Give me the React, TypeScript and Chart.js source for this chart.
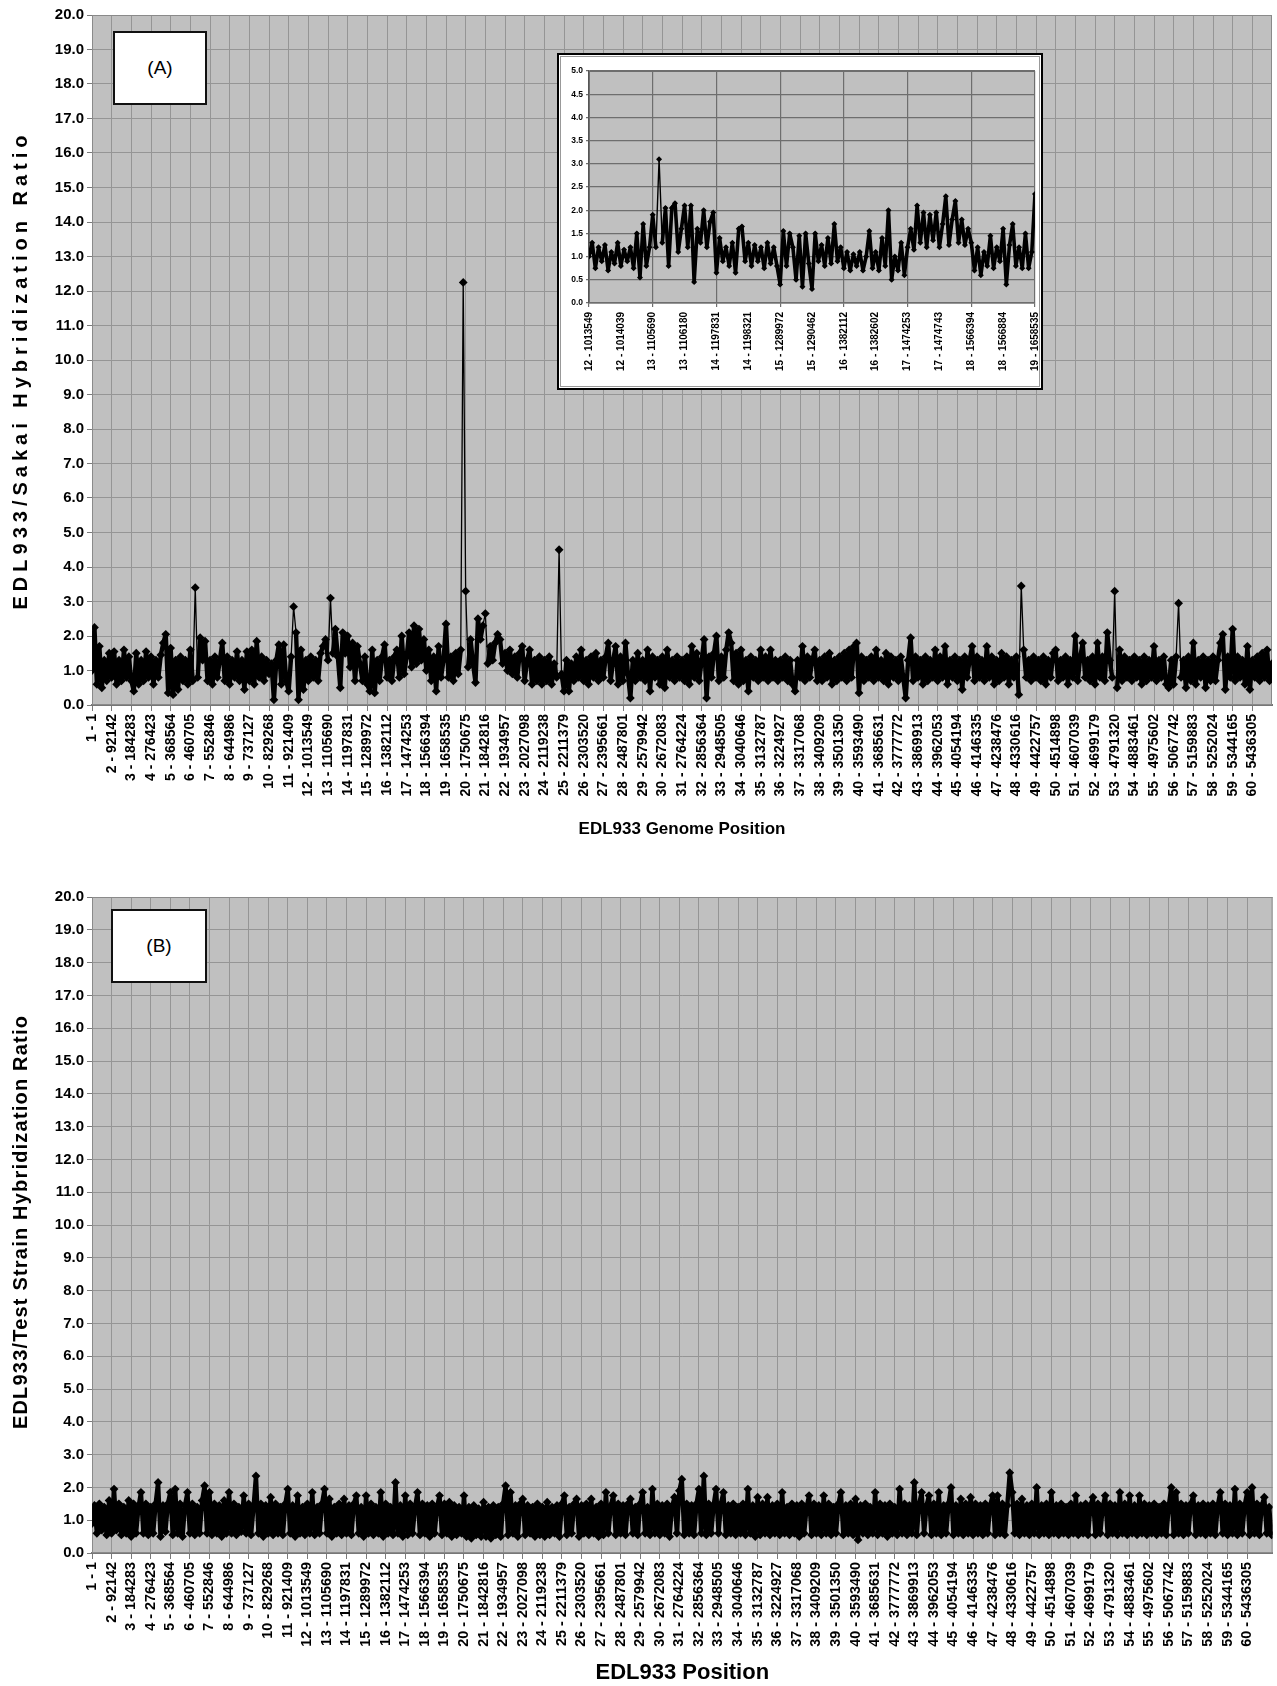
import React, { useEffect, useRef } from 'react';
import { Chart, registerables } from 'chart.js';

Chart.register(...registerables);

const FONT = "'Liberation Sans', Arial, Helvetica, sans-serif";

// 60 genome position tick labels shared by both panels
const GENOME_LABELS = [
  '1 - 1', '2 - 92142', '3 - 184283', '4 - 276423', '5 - 368564', '6 - 460705', '7 - 552846', '8 - 644986',
  '9 - 737127', '10 - 829268', '11 - 921409', '12 - 1013549', '13 - 1105690', '14 - 1197831', '15 - 1289972',
  '16 - 1382112', '17 - 1474253', '18 - 1566394', '19 - 1658535', '20 - 1750675', '21 - 1842816', '22 - 1934957',
  '23 - 2027098', '24 - 2119238', '25 - 2211379', '26 - 2303520', '27 - 2395661', '28 - 2487801', '29 - 2579942',
  '30 - 2672083', '31 - 2764224', '32 - 2856364', '33 - 2948505', '34 - 3040646', '35 - 3132787', '36 - 3224927',
  '37 - 3317068', '38 - 3409209', '39 - 3501350', '40 - 3593490', '41 - 3685631', '42 - 3777772', '43 - 3869913',
  '44 - 3962053', '45 - 4054194', '46 - 4146335', '47 - 4238476', '48 - 4330616', '49 - 4422757', '50 - 4514898',
  '51 - 4607039', '52 - 4699179', '53 - 4791320', '54 - 4883461', '55 - 4975602', '56 - 5067742', '57 - 5159883',
  '58 - 5252024', '59 - 5344165', '60 - 5436305',
];

const MAIN_Y_TICKS = [0, 1, 2, 3, 4, 5, 6, 7, 8, 9, 10, 11, 12, 13, 14, 15, 16, 17, 18, 19, 20];

// probes plotted per labelled genome interval
const POINTS_PER_LABEL = 8;

// Panel A: EDL933 / Sakai hybridization ratio
const SAKAI_RATIO = [
  1.0, 2.25, 0.6, 1.7, 0.5, 1.3, 0.7, 1.5,
  0.8, 1.55, 0.6, 1.3, 0.7, 1.6, 0.8, 1.4,
  0.7, 0.4, 1.5, 0.6, 1.3, 0.7, 1.55, 0.8,
  1.4, 0.6, 1.3, 0.8, 1.45, 1.8, 2.05, 0.35,
  1.65, 0.3, 1.3, 0.45, 1.4, 0.7, 1.3, 0.6,
  1.6, 0.7, 3.4, 0.8, 1.95, 1.3, 1.85, 0.7,
  1.3, 0.6, 1.4, 0.8, 1.3, 1.8, 0.7, 1.4,
  0.6, 1.3, 0.8, 1.55, 0.7, 1.3, 0.45, 1.55,
  0.7, 1.6, 0.6, 1.85, 0.8, 1.4, 0.7, 1.3,
  0.9, 1.2, 0.15, 1.3, 1.75, 0.6, 1.75, 0.7,
  0.4, 1.4, 2.85, 2.1, 0.15, 1.6, 0.45, 1.3,
  0.7, 1.4, 0.8, 1.3, 0.7, 1.5, 1.7, 1.9,
  1.3, 3.1, 1.5, 2.2, 1.4, 0.5, 2.1, 1.5,
  2.0, 1.1, 1.8, 0.7, 1.7, 1.2, 0.7, 1.4,
  0.6, 0.4, 1.6, 0.35, 1.3, 0.7, 1.4, 1.75,
  0.8, 1.3, 0.7, 1.4, 1.6, 0.8, 2.0, 0.9,
  1.4, 2.1, 1.1, 2.3, 1.2, 2.2, 1.3, 1.9,
  1.0, 1.6, 0.7, 1.4, 0.4, 1.7, 0.8, 1.3,
  2.35, 0.8, 1.4, 0.7, 1.5, 0.9, 1.6, 12.25,
  3.3, 1.1, 1.9, 1.2, 0.65, 2.5, 1.9, 2.3,
  2.65, 1.2, 1.7, 1.3, 1.8, 2.05, 1.9, 1.2,
  1.5, 1.0, 1.6, 0.9, 1.4, 0.8, 1.5, 1.7,
  0.7, 1.3, 1.6, 0.6, 1.3, 0.7, 1.4, 0.6,
  1.3, 0.7, 1.4, 0.6, 1.2, 0.8, 4.5, 0.9,
  0.4, 1.3, 0.4, 1.2, 0.7, 1.4, 0.8, 1.6,
  0.7, 1.3, 0.6, 1.4, 0.8, 1.5, 0.7, 1.3,
  0.8, 1.4, 1.8, 0.7, 1.3, 1.7, 0.6, 1.4,
  0.7, 1.8, 0.9, 0.2, 1.3, 0.7, 1.5, 0.8,
  1.3, 0.7, 1.6, 0.4, 1.4, 0.8, 1.3, 0.6,
  1.4, 0.5, 1.6, 0.8, 1.3, 0.7, 1.4, 0.8,
  1.3, 0.7, 1.4, 0.6, 1.7, 0.8, 1.5, 0.7,
  1.3, 1.9, 0.2, 1.4, 0.8, 1.5, 2.0, 0.7,
  1.4, 0.8, 1.6, 2.1, 1.8, 0.7, 1.5, 0.6,
  1.6, 0.7, 1.3, 0.4, 1.4, 0.8, 1.3, 0.7,
  1.6, 0.8, 1.4, 0.7, 1.6, 0.8, 1.3, 0.7,
  1.3, 0.8, 1.4, 0.7, 1.3, 0.6, 0.4, 1.3,
  0.8, 1.7, 0.7, 1.4, 0.8, 1.3, 1.6, 0.7,
  1.3, 0.7, 1.4, 0.8, 1.5, 0.6, 1.3, 0.7,
  1.4, 0.8, 1.5, 0.7, 1.6, 0.8, 1.7, 1.8,
  0.35, 1.4, 0.7, 1.3, 0.8, 1.4, 0.7, 1.6,
  0.8, 1.3, 0.7, 1.5, 0.6, 1.4, 0.8, 1.3,
  0.7, 1.4, 0.8, 0.2, 1.3, 1.95, 0.7, 1.4,
  0.8, 1.3, 0.6, 1.4, 0.7, 1.3, 0.8, 1.6,
  0.7, 1.4, 0.8, 1.7, 0.6, 1.3, 0.8, 1.4,
  0.7, 1.3, 0.45, 1.4, 0.8, 1.3, 1.7, 0.7,
  1.4, 0.8, 1.3, 0.7, 1.7, 0.8, 1.4, 0.6,
  1.3, 0.7, 1.5, 0.8, 1.4, 0.6, 1.3, 0.8,
  1.4, 0.3, 3.45, 1.6, 0.8, 1.3, 0.7, 1.4,
  0.8, 1.3, 0.7, 1.4, 0.6, 1.3, 0.8, 1.5,
  1.6, 0.7, 1.3, 0.8, 1.4, 0.6, 1.3, 0.8,
  2.0, 0.7, 1.4, 1.8, 0.8, 1.3, 0.7, 1.4,
  0.6, 1.8, 0.8, 1.4, 0.7, 2.1, 1.3, 0.8,
  3.3, 0.5, 1.6, 0.7, 1.4, 0.8, 1.3, 0.7,
  1.4, 0.8, 1.3, 0.6, 1.4, 0.7, 1.3, 0.8,
  1.7, 0.7, 1.3, 0.8, 1.4, 0.6, 0.5, 1.3,
  0.6, 1.4, 2.95, 0.8, 1.3, 0.5, 1.4, 0.7,
  1.8, 0.6, 1.3, 0.8, 1.4, 0.5, 1.3, 0.7,
  1.4, 0.7, 1.3, 1.8, 2.05, 0.45, 1.4, 0.8,
  2.2, 0.7, 1.4, 0.8, 1.3, 0.6, 1.7, 0.45,
  1.3, 0.8, 1.4, 0.7, 1.5, 0.8, 1.6, 0.7,
  1.2,
];

// Panel B: EDL933 / test strain hybridization ratio
const TEST_STRAIN_RATIO = [
  0.9, 1.45, 0.6, 1.5, 0.7, 1.4, 0.55, 1.6,
  0.6, 1.95, 0.7, 1.5, 0.55, 1.4, 0.6, 1.6,
  0.5, 1.5, 0.6, 1.4, 1.85, 0.6, 1.5, 0.55,
  1.4, 0.6, 1.5, 2.15, 0.5, 1.45, 0.65, 1.5,
  1.85, 0.55, 1.95, 0.6, 1.5, 0.5, 1.45, 1.85,
  0.6, 1.5, 0.55, 1.4, 0.6, 1.6, 2.05, 0.6,
  1.85, 0.55, 1.5, 0.6, 1.45, 0.5, 1.6, 0.6,
  1.85, 0.6, 1.5, 0.55, 1.4, 0.65, 1.75, 0.6,
  1.5, 0.55, 1.4, 2.35, 0.6, 1.5, 0.5, 1.45,
  0.6, 1.7, 0.55, 1.5, 0.6, 1.4, 0.55, 1.5,
  1.95, 0.6, 1.45, 0.5, 1.75, 0.6, 1.4, 0.55,
  1.5, 0.6, 1.85, 0.55, 1.4, 0.6, 1.5, 1.95,
  0.6, 1.65, 0.5, 1.4, 0.6, 1.5, 0.55, 1.65,
  0.6, 1.45, 0.55, 1.5, 1.75, 0.6, 1.4, 0.5,
  1.75, 0.6, 1.5, 0.55, 1.4, 0.6, 1.85, 0.5,
  1.5, 0.6, 1.4, 0.55, 2.15, 0.6, 1.45, 0.5,
  1.75, 0.55, 1.5, 0.6, 1.4, 1.85, 0.55, 1.5,
  0.6, 1.45, 0.5, 1.5, 0.6, 1.4, 1.75, 0.55,
  1.5, 0.6, 1.55, 0.5, 1.45, 0.55, 1.4, 0.6,
  1.75, 0.5, 1.4, 0.45, 1.45, 0.55, 1.35, 0.5,
  1.55, 0.5, 1.4, 0.45, 1.45, 0.55, 1.4, 0.5,
  1.5, 2.05, 0.55, 1.85, 0.6, 1.45, 0.5, 1.5,
  1.65, 0.55, 1.45, 0.6, 1.4, 0.5, 1.5, 0.55,
  1.4, 0.5, 1.55, 0.55, 1.4, 0.6, 1.45, 0.5,
  1.5, 1.75, 0.55, 1.4, 0.6, 1.5, 1.65, 0.5,
  1.45, 0.6, 1.5, 0.55, 1.65, 0.6, 1.4, 0.5,
  1.5, 0.55, 1.85, 0.6, 1.45, 1.75, 0.55, 1.5,
  0.6, 1.45, 0.55, 1.5, 1.65, 0.6, 1.4, 0.55,
  1.5, 1.85, 0.6, 1.4, 0.55, 1.95, 0.6, 1.5,
  0.55, 1.45, 0.6, 1.5, 0.5, 1.4, 1.7, 0.6,
  1.9, 2.25, 0.55, 1.5, 0.6, 1.45, 0.55, 1.5,
  1.95, 0.6, 2.35, 0.55, 1.5, 0.6, 1.45, 1.95,
  0.6, 1.5, 1.85, 0.55, 1.45, 0.6, 1.5, 0.55,
  1.4, 0.6, 1.5, 0.55, 1.95, 0.6, 1.45, 0.5,
  1.7, 0.55, 1.5, 0.6, 1.7, 0.55, 1.45, 0.6,
  1.5, 0.55, 1.85, 0.6, 1.4, 0.55, 1.5, 0.6,
  1.45, 0.5, 1.5, 0.6, 1.4, 1.75, 0.55, 1.5,
  0.6, 1.45, 0.55, 1.75, 0.6, 1.5, 0.55, 1.4,
  0.6, 1.5, 1.85, 0.55, 1.45, 0.6, 1.5, 0.55,
  1.65, 0.4, 1.45, 0.6, 1.5, 0.55, 1.4, 0.6,
  1.85, 0.55, 1.5, 0.6, 1.45, 0.5, 1.5, 0.6,
  1.4, 0.55, 1.95, 0.6, 1.5, 0.55, 1.45, 0.6,
  2.15, 0.55, 1.5, 1.85, 0.6, 1.45, 1.75, 0.55,
  1.5, 0.6, 1.85, 0.55, 1.45, 0.6, 1.5, 2.0,
  0.55, 1.45, 0.6, 1.65, 0.55, 1.5, 0.6, 1.7,
  0.55, 1.5, 0.6, 1.45, 0.55, 1.5, 0.6, 1.45,
  1.75, 0.55, 1.75, 0.6, 1.5, 0.55, 1.45, 2.45,
  1.85, 0.6, 1.5, 0.55, 1.65, 0.6, 1.45, 0.55,
  1.5, 0.6, 2.0, 0.55, 1.45, 0.6, 1.5, 0.55,
  1.85, 0.6, 1.45, 0.55, 1.5, 0.6, 1.4, 0.55,
  1.5, 0.6, 1.75, 0.55, 1.45, 0.6, 1.5, 0.55,
  1.45, 1.7, 0.55, 1.5, 0.6, 1.4, 1.75, 0.55,
  1.5, 0.6, 1.45, 0.55, 1.85, 0.6, 1.5, 0.55,
  1.75, 0.6, 1.45, 0.55, 1.75, 0.6, 1.5, 0.55,
  1.45, 0.6, 1.5, 0.55, 1.4, 0.6, 1.5, 0.55,
  1.45, 2.0, 0.55, 1.85, 0.6, 1.5, 0.55, 1.45,
  0.6, 1.5, 1.75, 0.55, 1.45, 0.6, 1.5, 0.55,
  1.45, 0.6, 1.5, 0.55, 1.45, 1.85, 0.6, 1.5,
  0.55, 1.45, 0.6, 1.95, 0.55, 1.5, 0.6, 1.45,
  1.85, 0.55, 2.0, 0.6, 1.5, 0.55, 1.45, 1.7,
  0.6, 1.4, 0.55,
];

// Inset (panel A): zoom on genome positions 12 - 1013549 to 19 - 1658535
const INSET_LABELS = [
  '12 - 1013549', '12 - 1014039', '13 - 1105690', '13 - 1106180', '14 - 1197831', '14 - 1198321',
  '15 - 1289972', '15 - 1290462', '16 - 1382112', '16 - 1382602', '17 - 1474253', '17 - 1474743',
  '18 - 1566394', '18 - 1566884', '19 - 1658535',
];
const INSET_Y_TICKS = [0, 0.5, 1, 1.5, 2, 2.5, 3, 3.5, 4, 4.5, 5];
const INSET_POINTS_PER_LABEL = 10;
const INSET_RATIO = [
  1.0, 1.3, 0.75, 1.2, 0.9, 1.25, 0.7, 1.1, 0.85, 1.3,
  0.8, 1.15, 0.9, 1.2, 0.75, 1.5, 0.55, 1.7, 0.8, 1.2,
  1.9, 1.2, 3.1, 1.3, 2.05, 0.8, 2.05, 2.15, 1.1, 1.6,
  2.1, 1.2, 2.1, 0.45, 1.6, 1.3, 2.0, 1.2, 1.75, 1.95,
  0.65, 1.4, 0.9, 1.2, 0.8, 1.3, 0.65, 1.6, 1.65, 0.9,
  1.3, 0.8, 1.25, 0.9, 1.2, 0.75, 1.3, 0.85, 1.2, 0.8,
  0.4, 1.55, 0.8, 1.5, 1.2, 0.5, 1.45, 0.35, 1.5, 0.85,
  0.3, 1.5, 0.9, 1.25, 0.8, 1.4, 0.85, 1.7, 0.9, 1.2,
  0.75, 1.1, 0.7, 1.05, 0.8, 1.1, 0.7, 1.0, 1.55, 0.75,
  1.1, 0.7, 1.4, 0.8, 2.0, 0.5, 1.0, 0.7, 1.3, 0.6,
  1.2, 1.6, 1.15, 2.1, 1.3, 1.95, 1.2, 1.9, 1.35, 1.95,
  1.2, 1.7, 2.3, 1.25, 1.8, 2.2, 1.3, 1.8, 1.25, 1.6,
  1.3, 0.7, 1.2, 0.6, 1.1, 0.8, 1.45, 0.75, 1.2, 0.9,
  1.6, 0.4, 1.25, 1.7, 0.8, 1.2, 0.75, 1.5, 0.75, 1.1,
  2.35,
];

const PLOT_BG = '#c0c0c0';
const GRID = '#959595';

function plotFrame(bg: string, border: string) {
  return {
    id: 'plotFrame',
    beforeDraw(chart: any) {
      const { ctx, chartArea: a } = chart;
      ctx.save();
      ctx.fillStyle = bg;
      ctx.fillRect(a.left, a.top, a.right - a.left, a.bottom - a.top);
      ctx.restore();
    },
    beforeDatasetsDraw(chart: any) {
      const { ctx, chartArea: a } = chart;
      ctx.save();
      ctx.strokeStyle = border;
      ctx.lineWidth = 1;
      ctx.strokeRect(a.left + 0.5, a.top + 0.5, a.right - a.left - 1, a.bottom - a.top - 1);
      ctx.restore();
    },
  };
}

function toPoints(values: number[], perLabel: number) {
  return values.map((y, i) => ({ x: i / perLabel, y }));
}

// thick strokes inside the dense band, thin strokes for isolated spikes
function segmentWidth(threshold: number, thin: number, thick: number) {
  return (ctx: any) => (Math.max(ctx.p0.parsed.y, ctx.p1.parsed.y) > threshold ? thin : thick);
}

type MainCfg = {
  values: number[];
  xMax: number;
  xTitle: string;
  xTitleSize: number;
  xTitlePadBottom: number;
  xAxisHeight: number;
  padTop: number;
  padRight: number;
  xTickSize: number;
};

function buildMain(canvas: HTMLCanvasElement, c: MainCfg) {
  return new Chart(canvas, {
    type: 'scatter',
    data: {
      datasets: [
        {
          data: toPoints(c.values, POINTS_PER_LABEL),
          showLine: true,
          borderColor: '#000',
          borderWidth: 4.4,
          borderJoinStyle: 'round',
          segment: { borderWidth: segmentWidth(2.6, 1.3, 4.4) },
          pointStyle: 'rectRot',
          pointRadius: 4.4,
          pointBackgroundColor: '#000',
          pointBorderColor: '#000',
          pointBorderWidth: 0,
        },
      ],
    },
    options: {
      responsive: false,
      animation: false,
      events: [],
      layout: { padding: { left: 0, top: c.padTop, right: c.padRight, bottom: 0 } },
      plugins: { legend: { display: false }, tooltip: { enabled: false } },
      scales: {
        x: {
          type: 'linear',
          min: 0,
          max: c.xMax,
          afterBuildTicks: (s: any) => {
            s.ticks = GENOME_LABELS.map((_, i) => ({ value: i }));
          },
          afterFit: (s: any) => {
            s.height = c.xAxisHeight;
            s.paddingLeft = 0;
            s.paddingRight = 0;
          },
          ticks: {
            autoSkip: false,
            minRotation: 90,
            maxRotation: 90,
            padding: 3,
            color: '#000',
            font: { family: FONT, weight: 'bold', size: c.xTickSize },
            callback: (v: any) => GENOME_LABELS[Math.round(Number(v))] ?? '',
          },
          grid: { color: GRID, lineWidth: 1, tickLength: 6, tickColor: '#7a7a7a' },
          border: { color: '#777', width: 2 },
          title: {
            display: true,
            text: c.xTitle,
            color: '#000',
            font: { family: FONT, weight: 'bold', size: c.xTitleSize },
            padding: { top: 0, bottom: c.xTitlePadBottom },
          },
        },
        y: {
          type: 'linear',
          min: 0,
          max: 20,
          afterBuildTicks: (s: any) => {
            s.ticks = MAIN_Y_TICKS.map((v) => ({ value: v }));
          },
          afterFit: (s: any) => {
            s.width = 92;
          },
          ticks: {
            autoSkip: false,
            padding: 3,
            color: '#000',
            font: { family: FONT, weight: 'bold', size: 15 },
            callback: (v: any) => Number(v).toFixed(1),
          },
          grid: { color: GRID, lineWidth: 1, tickLength: 5, tickColor: '#7a7a7a' },
          border: { color: '#777', width: 1 },
        },
      },
    } as any,
    plugins: [plotFrame(PLOT_BG, '#8a8a8a')],
  });
}

function buildInset(canvas: HTMLCanvasElement) {
  const lineColor = (ctx: any) => (ctx.index % 2 === 0 ? '#6e6e6e' : 'rgba(0,0,0,0)');
  return new Chart(canvas, {
    type: 'scatter',
    data: {
      datasets: [
        {
          data: toPoints(INSET_RATIO, INSET_POINTS_PER_LABEL),
          showLine: true,
          borderColor: '#000',
          borderWidth: 3.6,
          borderJoinStyle: 'round',
          segment: { borderWidth: segmentWidth(2.4, 1.4, 3.6) },
          pointStyle: 'rectRot',
          pointRadius: 3,
          pointBackgroundColor: '#000',
          pointBorderColor: '#000',
          pointBorderWidth: 0,
        },
      ],
    },
    options: {
      responsive: false,
      animation: false,
      events: [],
      layout: { padding: { left: 0, top: 14, right: 3, bottom: 0 } },
      plugins: { legend: { display: false }, tooltip: { enabled: false } },
      scales: {
        x: {
          type: 'linear',
          min: 0,
          max: INSET_LABELS.length - 1,
          afterBuildTicks: (s: any) => {
            s.ticks = INSET_LABELS.map((_, i) => ({ value: i }));
          },
          afterFit: (s: any) => {
            s.height = 83;
            s.paddingLeft = 0;
            s.paddingRight = 0;
          },
          ticks: {
            autoSkip: false,
            minRotation: 90,
            maxRotation: 90,
            padding: 5,
            color: '#000',
            font: { family: FONT, weight: 'bold', size: 10 },
            callback: (v: any) => INSET_LABELS[Math.round(Number(v))] ?? '',
          },
          grid: { color: lineColor, tickColor: lineColor, lineWidth: 1.2, tickLength: 4 },
          border: { color: '#555', width: 1.5 },
        },
        y: {
          type: 'linear',
          min: 0,
          max: 5,
          afterBuildTicks: (s: any) => {
            s.ticks = INSET_Y_TICKS.map((v) => ({ value: v }));
          },
          afterFit: (s: any) => {
            s.width = 28;
          },
          ticks: {
            autoSkip: false,
            padding: 3,
            color: '#000',
            font: { family: FONT, weight: 'bold', size: 8.5 },
            callback: (v: any) => Number(v).toFixed(1),
          },
          grid: { color: '#6e6e6e', lineWidth: 1.2, tickLength: 3, tickColor: '#6e6e6e' },
          border: { color: '#555', width: 1.5 },
        },
      },
    } as any,
    plugins: [plotFrame(PLOT_BG, '#6e6e6e')],
  });
}

const yTitleStyle = (cx: number, cy: number, spacing: number): React.CSSProperties => ({
  position: 'absolute',
  left: cx,
  top: cy,
  transform: 'translate(-50%, -50%) rotate(-90deg)',
  whiteSpace: 'nowrap',
  fontFamily: FONT,
  fontWeight: 'bold',
  fontSize: 20,
  letterSpacing: spacing,
  color: '#000',
  lineHeight: 1,
});

const panelBox = (left: number, top: number, w: number, h: number): React.CSSProperties => ({
  position: 'absolute',
  left,
  top,
  width: w,
  height: h,
  boxSizing: 'border-box',
  border: '2px solid #111',
  background: '#fff',
  display: 'flex',
  alignItems: 'center',
  justifyContent: 'center',
  fontFamily: FONT,
  fontSize: 19,
  color: '#000',
});

export default function App() {
  const refA = useRef<HTMLCanvasElement>(null);
  const refB = useRef<HTMLCanvasElement>(null);
  const refInset = useRef<HTMLCanvasElement>(null);

  useEffect(() => {
    const charts: Chart[] = [];
    if (refA.current) {
      charts.push(
        buildMain(refA.current, {
          values: SAKAI_RATIO,
          xMax: 60,
          xTitle: 'EDL933 Genome Position',
          xTitleSize: 17,
          xTitlePadBottom: 20,
          xAxisHeight: 155,
          padTop: 15,
          padRight: 5,
          xTickSize: 14,
        })
      );
    }
    if (refB.current) {
      charts.push(
        buildMain(refB.current, {
          values: TEST_STRAIN_RATIO,
          xMax: 60.3,
          xTitle: 'EDL933 Position',
          xTitleSize: 22,
          xTitlePadBottom: 0,
          xAxisHeight: 133,
          padTop: 37,
          padRight: 1,
          xTickSize: 14.4,
        })
      );
    }
    if (refInset.current) charts.push(buildInset(refInset.current));
    return () => charts.forEach((ch) => ch.destroy());
  }, []);

  return (
    <div style={{ position: 'absolute', left: 0, top: 0, width: 1277, height: 1686, background: '#fff', overflow: 'hidden' }}>
      <canvas ref={refA} width={1277} height={860} style={{ position: 'absolute', left: 0, top: 0, width: 1277, height: 860 }} />
      <canvas ref={refB} width={1277} height={826} style={{ position: 'absolute', left: 0, top: 860, width: 1277, height: 826 }} />

      <div style={yTitleStyle(20, 370, 5)}>EDL933/Sakai Hybridization Ratio</div>
      <div style={yTitleStyle(20, 1222, 1.2)}>EDL933/Test Strain Hybridization Ratio</div>

      <div style={panelBox(113, 31, 94, 74)}>(A)</div>
      <div style={panelBox(111, 909, 96, 74)}>(B)</div>

      <div
        style={{
          position: 'absolute',
          left: 557,
          top: 53,
          width: 486,
          height: 337,
          boxSizing: 'border-box',
          border: '2px solid #000',
          padding: 1,
          background: '#fff',
        }}
      >
        <div style={{ border: '1px solid #999', width: 478, height: 329, background: '#fff' }}>
          <canvas ref={refInset} width={478} height={329} style={{ display: 'block', width: 478, height: 329 }} />
        </div>
      </div>
    </div>
  );
}
